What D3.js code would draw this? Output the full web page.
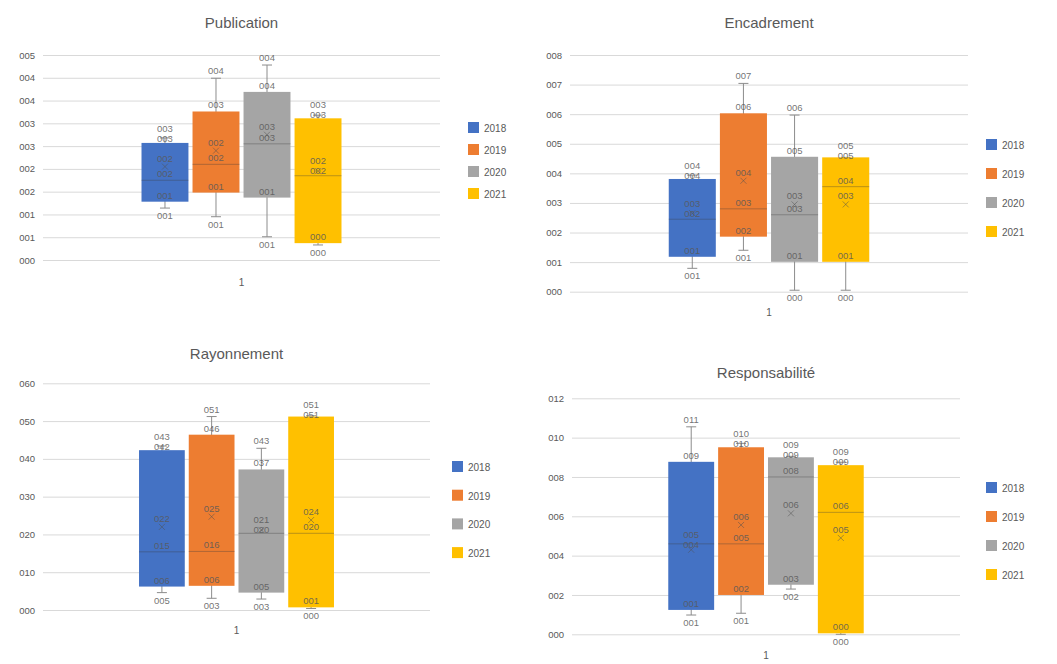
<!DOCTYPE html>
<html>
<head>
<meta charset="utf-8">
<script src="https://cdn.jsdelivr.net/npm/d3@7"></script>
<style>
body { margin: 0; background: #fff; }
svg text { font-family: "Liberation Sans", Arial, sans-serif; }
</style>
</head>
<body>
<svg id="chart" width="1057" height="664"></svg>
<script>
var years = ["2018", "2019", "2020", "2021"];
var categories = ["1"];
var colors = ["#4472C4", "#ED7D31", "#A5A5A5", "#FFC000"];

// Publication
var pubMin  = [1.14, 0.95, 0.51, 0.33];
var pubQ1   = [1.28, 1.48, 1.37, 0.37];
var pubMed  = [1.75, 2.10, 2.55, 1.85];
var pubQ3   = [2.57, 3.26, 3.69, 3.11];
var pubMax  = [2.68, 3.99, 4.28, 3.18];
var pubMean = [2.05, 2.40, 2.75, 1.95];
var pubTicks = [0, 0.5, 1, 1.5, 2, 2.5, 3, 3.5, 4, 4.5];

// Encadrement
var encMin  = [0.79, 1.40, 0.05, 0.05];
var encQ1   = [1.18, 1.86, 1.01, 1.01];
var encMed  = [2.45, 2.80, 2.60, 3.55];
var encQ3   = [3.81, 6.03, 4.56, 4.54];
var encMax  = [3.94, 7.04, 5.97, 4.54];
var encMean = [2.65, 3.75, 2.95, 2.95];
var encTicks = [0, 1, 2, 3, 4, 5, 6, 7, 8];

// Rayonnement
var rayMin  = [4.6, 3.1, 2.9, 0.4];
var rayQ1   = [6.2, 6.4, 4.6, 0.7];
var rayMed  = [15.4, 15.5, 20.3, 20.3];
var rayQ3   = [42.3, 46.4, 37.2, 51.2];
var rayMax  = [43.4, 51.2, 42.8, 51.4];
var rayMean = [22.0, 24.7, 21.2, 23.8];
var rayTicks = [0, 10, 20, 30, 40, 50, 60];

// Responsabilité
var resMin  = [0.98, 1.07, 2.30, 0.0];
var resQ1   = [1.24, 2.00, 2.52, 0.05];
var resMed  = [4.60, 4.60, 8.00, 6.20];
var resQ3   = [8.77, 9.51, 9.00, 8.60];
var resMax  = [10.55, 9.71, 9.05, 8.75];
var resMean = [4.30, 5.56, 6.15, 4.90];
var resTicks = [0, 2, 4, 6, 8, 10, 12];

var svg = d3.select("#chart");

// Excel "000" number format
var fmt = function(v) { return String(Math.round(v)).padStart(3, "0"); };

var panels = [
  { title: "Publication", min: pubMin, q1: pubQ1, med: pubMed, q3: pubQ3, max: pubMax, mean: pubMean, ticks: pubTicks,
    left: 43, right: 440, top: 55, bottom: 260, titleY: 28, xLabelY: 286, legX: 468, legY: 128, legStep: 22 },
  { title: "Encadrement", min: encMin, q1: encQ1, med: encMed, q3: encQ3, max: encMax, mean: encMean, ticks: encTicks,
    left: 570, right: 968, top: 55, bottom: 291.7, titleY: 28, xLabelY: 316, legX: 986, legY: 145, legStep: 29 },
  { title: "Rayonnement", min: rayMin, q1: rayQ1, med: rayMed, q3: rayQ3, max: rayMax, mean: rayMean, ticks: rayTicks,
    left: 43, right: 430, top: 383.3, bottom: 610, titleY: 359, xLabelY: 634, legX: 452, legY: 467, legStep: 28.7 },
  { title: "Responsabilité", min: resMin, q1: resQ1, med: resMed, q3: resQ3, max: resMax, mean: resMean, ticks: resTicks,
    left: 572, right: 960, top: 398.3, bottom: 634.3, titleY: 378, xLabelY: 659, legX: 986, legY: 488, legStep: 29 }
];

// label offsets from their point, then spread so they don't sit on each other
var labelDefs = [
  { key: "max", dy: -4 },
  { key: "q3", dy: -3 },
  { key: "mean", dy: -5 },
  { key: "med", dy: -3 },
  { key: "q1", dy: -3 },
  { key: "min", dy: 11 }
];

function placeLabels(d, y) {
  var list = labelDefs.map(function(ld) {
    return { text: fmt(d[ld.key]), y: y(d[ld.key]) + ld.dy };
  });
  list.sort(function(a, b) { return a.y - b.y; });
  var gap = 10;
  for (var k = 0; k < 4; k++) {
    for (var i = 1; i < list.length; i++) {
      var diff = list[i].y - list[i - 1].y;
      if (diff < gap) {
        var push = (gap - diff) / 2;
        list[i - 1].y -= push;
        list[i].y += push;
      }
    }
  }
  return list;
}

function drawPanel(p) {
  var g = svg.append("g");

  var y = d3.scaleLinear()
    .domain([0, d3.max(p.ticks)])
    .range([p.bottom, p.top]);
  var x0 = d3.scaleBand().domain(categories).range([p.left, p.right]).padding(0.33);
  var x1 = d3.scaleBand().domain(years).range([0, x0.bandwidth()]).paddingInner(0.08);

  // gridlines + y labels
  g.append("g")
    .attr("transform", "translate(" + p.left + ",0)")
    .call(d3.axisLeft(y).tickValues(p.ticks).tickFormat(fmt).tickSize(-(p.right - p.left)).tickPadding(8))
    .call(function(a) { a.select(".domain").remove(); })
    .call(function(a) { a.selectAll("line").attr("stroke", "#d9d9d9"); })
    .call(function(a) { a.selectAll("text").attr("fill", "#595959").style("font-size", "9.5px"); });

  // category label
  g.append("text")
    .attr("x", x0("1") + x0.bandwidth() / 2)
    .attr("y", p.xLabelY)
    .attr("text-anchor", "middle")
    .attr("fill", "#595959")
    .style("font-size", "10px")
    .text(categories[0]);

  // title
  g.append("text")
    .attr("x", (p.left + p.right) / 2)
    .attr("y", p.titleY)
    .attr("text-anchor", "middle")
    .attr("fill", "#595959")
    .style("font-size", "15px")
    .text(p.title);

  var rows = years.map(function(yr, i) {
    return { year: yr, i: i, min: p.min[i], q1: p.q1[i], med: p.med[i], q3: p.q3[i], max: p.max[i], mean: p.mean[i] };
  });

  var box = g.selectAll(".box")
    .data(rows)
    .enter()
    .append("g")
      .attr("class", "box")
      .attr("transform", function(d) { return "translate(" + (x0("1") + x1(d.year)) + ",0)"; });

  var bw = x1.bandwidth();

  // whiskers
  box.append("line")
    .attr("x1", bw / 2).attr("x2", bw / 2)
    .attr("y1", function(d) { return y(d.max); })
    .attr("y2", function(d) { return y(d.min); })
    .attr("stroke", "#8c8c8c");
  box.append("line")
    .attr("x1", bw / 2 - 5).attr("x2", bw / 2 + 5)
    .attr("y1", function(d) { return y(d.max); })
    .attr("y2", function(d) { return y(d.max); })
    .attr("stroke", "#8c8c8c");
  box.append("line")
    .attr("x1", bw / 2 - 5).attr("x2", bw / 2 + 5)
    .attr("y1", function(d) { return y(d.min); })
    .attr("y2", function(d) { return y(d.min); })
    .attr("stroke", "#8c8c8c");

  box.append("rect")
    .attr("x", 0)
    .attr("width", bw)
    .attr("y", function(d) { return y(d.q3); })
    .attr("height", function(d) { return y(d.q1) - y(d.q3); })
    .attr("fill", function(d) { return colors[d.i]; });

  // median
  box.append("line")
    .attr("x1", 0).attr("x2", bw)
    .attr("y1", function(d) { return y(d.med); })
    .attr("y2", function(d) { return y(d.med); })
    .attr("stroke", "rgba(60,60,60,0.35)");

  // mean marker
  box.append("path")
    .attr("d", function(d) {
      var cx = bw / 2, cy = y(d.mean);
      return "M" + (cx - 3) + "," + (cy - 3) + "L" + (cx + 3) + "," + (cy + 3) +
             "M" + (cx + 3) + "," + (cy - 3) + "L" + (cx - 3) + "," + (cy + 3);
    })
    .attr("stroke", "rgba(80,80,80,0.5)");

  // data labels
  box.selectAll("text.lbl")
    .data(function(d) { return placeLabels(d, y); })
    .enter()
    .append("text")
      .attr("class", "lbl")
      .attr("x", bw / 2)
      .attr("y", function(l) { return l.y; })
      .attr("text-anchor", "middle")
      .attr("fill", "#595959")
      .attr("fill-opacity", 0.85)
      .style("font-size", "9.5px")
      .text(function(l) { return l.text; });

  // legend
  var leg = g.selectAll(".leg")
    .data(years)
    .enter()
    .append("g")
      .attr("transform", function(d, i) { return "translate(" + p.legX + "," + (p.legY + i * p.legStep) + ")"; });
  leg.append("rect")
    .attr("x", 0).attr("y", -6)
    .attr("width", 11).attr("height", 11)
    .attr("fill", function(d, i) { return colors[i]; });
  leg.append("text")
    .attr("x", 16).attr("y", 4)
    .attr("fill", "#595959")
    .style("font-size", "10px")
    .text(function(d) { return d; });
}

panels.forEach(drawPanel);
</script>
</body>
</html>
